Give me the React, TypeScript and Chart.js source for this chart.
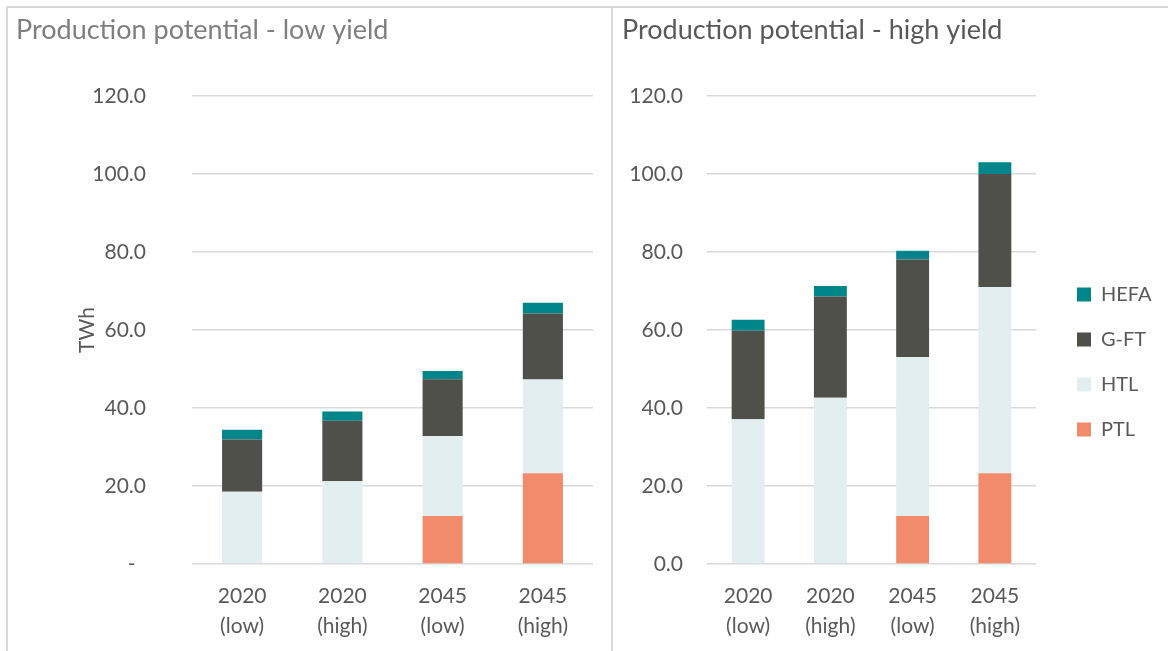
import React, { useEffect, useRef } from 'react';
import { Chart, registerables } from 'chart.js';

Chart.register(...registerables);

// ---- data ----
const categories = [['2020', '(low)'], ['2020', '(high)'], ['2045', '(low)'], ['2045', '(high)']];
const seriesNames = ['PTL', 'HTL', 'G-FT', 'HEFA'];
const seriesColors = ['#f28b6c', '#e2eef0', '#50504b', '#00868a'];

const lowPTL = [0, 0, 12.3, 23.3];
const lowHTL = [18.5, 21.2, 20.5, 24.0];
const lowGFT = [13.4, 15.5, 14.6, 16.9];
const lowHEFA = [2.5, 2.4, 2.1, 2.8];

const highPTL = [0, 0, 12.3, 23.3];
const highHTL = [37.1, 42.6, 40.8, 47.7];
const highGFT = [22.7, 26.0, 25.0, 29.0];
const highHEFA = [2.8, 2.7, 2.2, 3.0];

const yMin = 0;
const yMax = 120;
const yStep = 20;

const FONT = 'Lato, "Open Sans", sans-serif';
const TEXT = '#595959';
const GRID = '#d9d9d9';

const buildDatasets = (ptl: number[], htl: number[], gft: number[], hefa: number[]) =>
  [ptl, htl, gft, hefa].map((data, i) => ({
    label: seriesNames[i],
    data,
    backgroundColor: seriesColors[i],
    borderWidth: 0,
    barPercentage: 0.4,
    categoryPercentage: 1,
  }));

const legendShift = {
  id: 'legendShift',
  afterLayout(chart: any, _args: any, opts: any) {
    const l = chart.legend;
    if (!l || !opts || !opts.enabled) return;
    l.left += opts.dx;
    l.right += opts.dx;
    l.top += opts.dy;
    l.bottom += opts.dy;
  },
};

function makeOptions(p: {
  title: string;
  titleColor: string;
  yWidth: number;
  tickPad: number;
  yTitle: boolean;
  zeroDash: boolean;
  legend: boolean;
  padLeft: number;
  padRight: number;
}): any {
  return {
    responsive: false,
    animation: false,
    devicePixelRatio: 1,
    layout: { padding: { left: p.padLeft, right: p.padRight, top: 0, bottom: 0 } },
    plugins: {
      title: {
        display: true,
        text: p.title,
        align: 'start',
        color: p.titleColor,
        font: { family: FONT, size: 27, weight: 'normal' },
        padding: { top: 6.3, bottom: 49.3 },
      },
      legend: {
        display: p.legend,
        position: 'right',
        reverse: true,
        maxWidth: 100,
        labels: {
          boxWidth: 14,
          boxHeight: 14,
          padding: 25,
          color: TEXT,
          font: { family: FONT, size: 20 },
        },
      },
      tooltip: { enabled: false },
      legendShift: { enabled: p.legend, dx: 16, dy: 32.5 },
    },
    scales: {
      x: {
        stacked: true,
        afterFit: (s: any) => {
          s.height = 87;
        },
        grid: { display: false, drawTicks: false },
        border: { display: false },
        ticks: {
          color: TEXT,
          padding: 17,
          maxRotation: 0,
          autoSkip: false,
          font: { family: FONT, size: 21, lineHeight: 1.43 },
        },
      },
      y: {
        stacked: true,
        min: yMin,
        max: yMax,
        afterFit: (s: any) => {
          s.width = p.yWidth;
        },
        grid: { color: GRID, lineWidth: 1.5, drawTicks: false },
        border: { display: false },
        title: {
          display: p.yTitle,
          text: 'TWh',
          color: TEXT,
          font: { family: FONT, size: 21 },
          padding: { top: 59, bottom: 0 },
        },
        ticks: {
          stepSize: yStep,
          color: TEXT,
          padding: p.tickPad,
          font: { family: FONT, size: 21 },
          callback: (v: any) => (p.zeroDash && Number(v) === 0 ? '-\u2002' : Number(v).toFixed(1)),
        },
      },
    },
  };
}

export default function App() {
  const leftRef = useRef<HTMLCanvasElement | null>(null);
  const rightRef = useRef<HTMLCanvasElement | null>(null);

  useEffect(() => {
    const left = new Chart(leftRef.current as HTMLCanvasElement, {
      type: 'bar',
      data: { labels: categories, datasets: buildDatasets(lowPTL, lowHTL, lowGFT, lowHEFA) as any },
      options: makeOptions({
        title: 'Production potential - low yield',
        titleColor: '#7f7f7f',
        yWidth: 176,
        tickPad: 46,
        yTitle: true,
        zeroDash: true,
        legend: false,
        padLeft: 8,
        padRight: 18,
      }),
      plugins: [legendShift],
    });
    const right = new Chart(rightRef.current as HTMLCanvasElement, {
      type: 'bar',
      data: { labels: categories, datasets: buildDatasets(highPTL, highHTL, highGFT, highHEFA) as any },
      options: makeOptions({
        title: 'Production potential - high yield',
        titleColor: '#595959',
        yWidth: 85,
        tickPad: 24,
        yTitle: false,
        zeroDash: false,
        legend: true,
        padLeft: 9,
        padRight: 32,
      }),
      plugins: [legendShift],
    });
    return () => {
      left.destroy();
      right.destroy();
    };
  }, []);

  return (
    <div
      style={{
        position: 'fixed',
        left: 0,
        top: 0,
        width: 1168,
        height: 651,
        overflow: 'hidden',
        background: '#ffffff',
      }}
    >
      <div
        style={{
          position: 'absolute',
          left: 6,
          top: 6,
          width: 607,
          height: 700,
          boxSizing: 'border-box',
          border: '2px solid #d9d9d9',
        }}
      />
      <div
        style={{
          position: 'absolute',
          left: 611,
          top: 6,
          width: 700,
          height: 700,
          boxSizing: 'border-box',
          border: '2px solid #d9d9d9',
        }}
      />
      <canvas
        ref={leftRef}
        width={603}
        height={643}
        style={{ position: 'absolute', left: 8, top: 8, width: 603, height: 643 }}
      />
      <canvas
        ref={rightRef}
        width={555}
        height={643}
        style={{ position: 'absolute', left: 613, top: 8, width: 555, height: 643 }}
      />
    </div>
  );
}
